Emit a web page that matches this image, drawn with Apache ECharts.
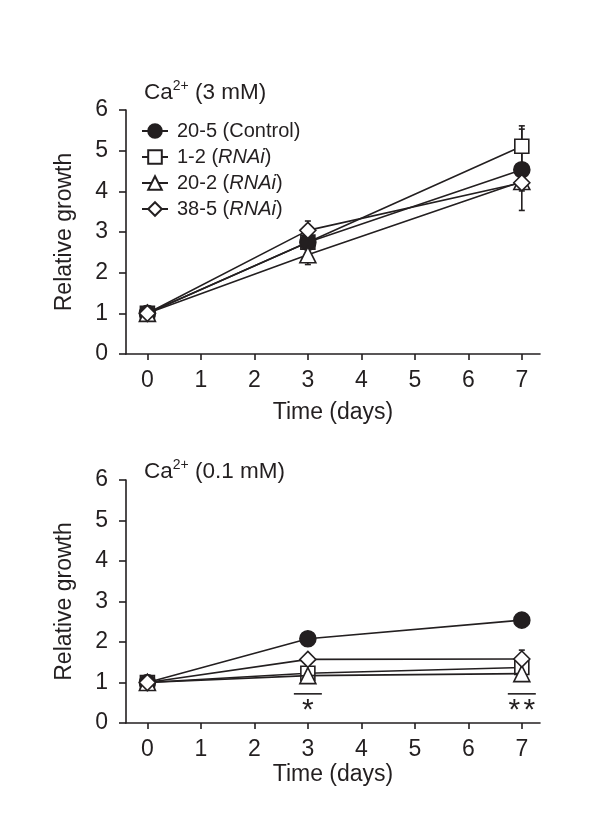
<!DOCTYPE html>
<html><head><meta charset="utf-8">
<script src="https://cdn.jsdelivr.net/npm/echarts@6/dist/echarts.min.js"></script>
<style>html,body{margin:0;padding:0;background:#fff}#c{width:600px;height:829px}</style>
</head><body><div id="c"></div>
<script>
// ---- data ----
var days = [0, 3, 7];
var xTicks = [0, 1, 2, 3, 4, 5, 6, 7];
var seriesNames = ['20-5 (Control)', '1-2 (RNAi)', '20-2 (RNAi)', '38-5 (RNAi)'];
// Ca2+ 3 mM
var ctrl_3 = [1.0, 2.75, 4.53];
var ctrl_3_err = [0.04, 0.08, 1.0];
var r12_3 = [1.0, 2.75, 5.11];
var r12_3_err = [0.04, 0.12, 0.5];
var r202_3 = [1.0, 2.44, 4.24];
var r202_3_err = [0.04, 0.24, 0.15];
var r385_3 = [1.0, 3.04, 4.21];
var r385_3_err = [0.04, 0.23, 0.2];
// Ca2+ 0.1 mM
var ctrl_01 = [1.0, 2.08, 2.54];
var ctrl_01_err = [0.03, 0.06, 0.06];
var r12_01 = [1.0, 1.23, 1.37];
var r12_01_err = [0.03, 0.05, 0.1];
var r202_01 = [1.0, 1.17, 1.22];
var r202_01_err = [0.03, 0.05, 0.08];
var r385_01 = [1.0, 1.57, 1.58];
var r385_01_err = [0.03, 0.08, 0.22];
// significance marks (bottom chart)
var sigDays = [3, 7];
var sigText = ['*', '**'];
var sigLevel = 0.72;

// ---- styles ----
var FONT = 'Liberation Sans, Arial, sans-serif';
var TXT = '#231f20';
var FS = 23;
var symbols = ['circle', 'rect', 'triangle', 'diamond'];
var symSizes = [16, 14, 16, 16];
var fills = [TXT, '#fff', '#fff', '#fff'];

function zip(xs, ys) { return xs.map(function (x, i) { return [x, ys[i]]; }); }
function zip3(xs, ys, es) { return xs.map(function (x, i) { return [x, ys[i], es[i]]; }); }

function lineSeries(idx, gi, vals, z) {
  return {
    name: seriesNames[idx], type: 'line', xAxisIndex: gi, yAxisIndex: gi,
    data: zip(days, vals), symbol: symbols[idx], symbolSize: symSizes[idx],
    lineStyle: { color: TXT, width: 1.6 },
    itemStyle: { color: fills[idx], borderColor: TXT, borderWidth: 1.6 },
    z: z, animation: false
  };
}
function errSeries(gi, vals, errs) {
  return {
    type: 'custom', xAxisIndex: gi, yAxisIndex: gi, z: 1, animation: false, silent: true,
    data: zip3(days, vals, errs),
    renderItem: function (params, api) {
      var x = api.value(0), y = api.value(1), e = api.value(2);
      var lo = api.coord([x, y - e]), hi = api.coord([x, y + e]);
      var w = 3;
      return { type: 'group', children: [
        { type: 'line', shape: { x1: lo[0], y1: lo[1], x2: hi[0], y2: hi[1] }, style: { stroke: TXT, lineWidth: 1.6 } },
        { type: 'line', shape: { x1: lo[0] - w, y1: lo[1], x2: lo[0] + w, y2: lo[1] }, style: { stroke: TXT, lineWidth: 1.6 } },
        { type: 'line', shape: { x1: hi[0] - w, y1: hi[1], x2: hi[0] + w, y2: hi[1] }, style: { stroke: TXT, lineWidth: 1.6 } }
      ]};
    }
  };
}
function sigSeries(gi) {
  return {
    type: 'custom', xAxisIndex: gi, yAxisIndex: gi, z: 5, animation: false, silent: true,
    data: sigDays.map(function (d, i) { return [d, sigLevel, i]; }),
    renderItem: function (params, api) {
      var c = api.coord([api.value(0), api.value(1)]);
      var chars = sigText[api.value(2)].split('');
      var hw = 14, step = 15;
      var kids = [{ type: 'line', shape: { x1: c[0] - hw, y1: c[1], x2: c[0] + hw, y2: c[1] }, style: { stroke: TXT, lineWidth: 1.6 } }];
      chars.forEach(function (ch, k) {
        var cx = c[0] + (k - (chars.length - 1) / 2) * step;
        kids.push({ type: 'text', x: cx, y: c[1] + 2, style: { text: ch, fill: TXT, font: '30px ' + FONT, align: 'center', verticalAlign: 'top' } });
      });
      return { type: 'group', children: kids };
    }
  };
}

function xAxis(gi, gap) {
  return {
    gridIndex: gi, type: 'value', min: -0.4, max: 7.34,
    name: 'Time (days)', nameLocation: 'middle', nameGap: gap,
    nameTextStyle: { fontFamily: FONT, fontSize: FS, color: TXT },
    axisLine: { onZero: false, lineStyle: { color: TXT, width: 1.6 } },
    axisTick: { show: true, length: 6, lineStyle: { color: TXT, width: 1.6 }, customValues: xTicks },
    axisLabel: { fontFamily: FONT, fontSize: FS, color: TXT, margin: 15, customValues: xTicks },
    splitLine: { show: false }
  };
}
function yAxis(gi) {
  return {
    gridIndex: gi, type: 'value', min: 0, max: 6, interval: 1,
    name: 'Relative growth', nameLocation: 'middle', nameGap: 50,
    nameTextStyle: { fontFamily: FONT, fontSize: FS, color: TXT },
    axisLine: { show: true, onZero: false, lineStyle: { color: TXT, width: 1.6 } },
    axisTick: { show: true, length: 7, lineStyle: { color: TXT, width: 1.6 } },
    axisLabel: { fontFamily: FONT, fontSize: FS, color: TXT, margin: 18 },
    splitLine: { show: false }
  };
}

var titleRich = {
  n: { fontFamily: FONT, fontSize: 22.5, fontWeight: 'normal', color: TXT, lineHeight: 28 },
  s: { fontFamily: FONT, fontSize: 14, fontWeight: 'normal', color: TXT, verticalAlign: 'top', lineHeight: 28 }
};

var chart = echarts.init(document.getElementById('c'), null, { renderer: 'canvas' });
chart.setOption({
  backgroundColor: '#fff',
  animation: false,
  title: [
    { text: '{n|Ca}{s|2+}{n| (3 mM)}', left: 139, top: 74, textStyle: { fontWeight: 'normal', rich: titleRich } },
    { text: '{n|Ca}{s|2+}{n| (0.1 mM)}', left: 139, top: 453, textStyle: { fontWeight: 'normal', rich: titleRich } }
  ],
  legend: {
    data: seriesNames, orient: 'vertical', left: 136, top: 116,
    itemWidth: 26, itemHeight: 17, itemGap: 6,
    textStyle: { fontFamily: FONT, fontSize: 20, color: TXT, padding: [0, 0, 0, 4],
      rich: { i: { fontFamily: FONT, fontSize: 20, color: TXT, fontStyle: 'italic' } } },
    formatter: function (name) { return name.replace('RNAi', '{i|RNAi}'); },
    selectedMode: false
  },
  grid: [
    { left: 126, top: 110, width: 414, height: 244 },
    { left: 126, top: 480, width: 414, height: 243 }
  ],
  xAxis: [xAxis(0, 47), xAxis(1, 40)],
  yAxis: [yAxis(0), yAxis(1)],
  series: [
    errSeries(0, ctrl_3, ctrl_3_err), errSeries(0, r12_3, r12_3_err),
    errSeries(0, r202_3, r202_3_err), errSeries(0, r385_3, r385_3_err),
    lineSeries(1, 0, r12_3, 2), lineSeries(0, 0, ctrl_3, 3),
    lineSeries(2, 0, r202_3, 4), lineSeries(3, 0, r385_3, 5),
    errSeries(1, ctrl_01, ctrl_01_err), errSeries(1, r12_01, r12_01_err),
    errSeries(1, r202_01, r202_01_err), errSeries(1, r385_01, r385_01_err),
    lineSeries(1, 1, r12_01, 2), lineSeries(0, 1, ctrl_01, 3),
    lineSeries(2, 1, r202_01, 4), lineSeries(3, 1, r385_01, 5),
    sigSeries(1)
  ]
});
</script></body></html>
